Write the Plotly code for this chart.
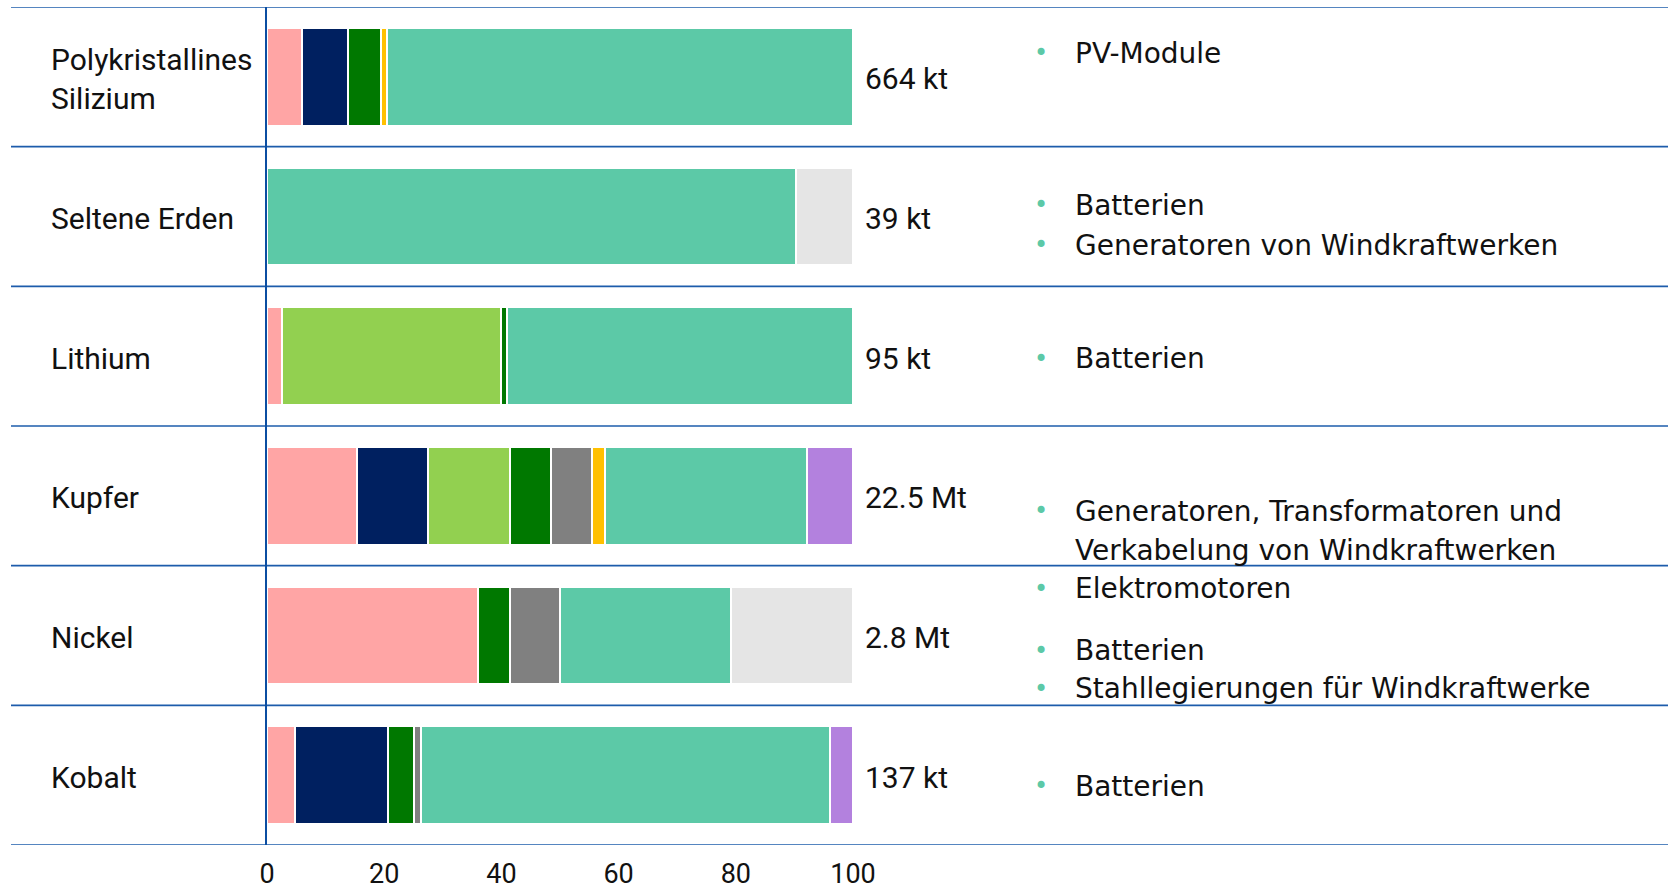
import plotly.graph_objects as go

# rows top to bottom
categories = ["Polykristallines<br>Silizium", "Seltene Erden", "Lithium", "Kupfer", "Nickel", "Kobalt"]
totals = ["664 kt", "39 kt", "95 kt", "22.5 Mt", "2.8 Mt", "137 kt"]

# shares in percent, one list per colour (stacking order left to right)
rosa = [5.9, None, 2.5, 15.4, 36.0, 4.7]
dunkelblau = [8.0, None, None, 12.1, None, 16.0]
hellgruen = [None, None, 37.5, 14.0, None, None]
gruen = [5.5, None, 0.9, 7.0, 5.5, 4.3]
grau = [None, None, None, 7.0, 8.5, 1.3]
gelb = [1.0, None, None, 2.1, None, None]
tuerkis = [79.6, 90.3, 59.1, 34.6, 29.1, 69.8]
lila = [None, None, None, 7.8, None, 3.9]
hellgrau = [None, 9.7, None, None, 20.9, None]

x_ticks = [0, 20, 40, 60, 80, 100]

# uses listed on the right
uses = ["PV-Module",
        "Batterien", "Generatoren von Windkraftwerken",
        "Batterien",
        "Generatoren, Transformatoren und", "Verkabelung von Windkraftwerken",
        "Elektromotoren",
        "Batterien", "Stahllegierungen für Windkraftwerke",
        "Batterien"]
use_bullet = [True, True, True, True, True, False, True, True, True, True]

W, H = 1668, 889
L, R, T, B = 267, 0, 7, 44
PW = W - L - R
PX_PER_UNIT = 5.86
LABEL_FONT = "Roboto, Arial, sans-serif"
TEXT_FONT = "DejaVu Sans, Verdana, sans-serif"
BLUE = "#1d5cab"
TEAL = "#5cc9a7"

series = [
    (rosa, "#ffa5a5"),
    (dunkelblau, "#002060"),
    (hellgruen, "#92d050"),
    (gruen, "#007800"),
    (grau, "#808080"),
    (gelb, "#ffc000"),
    (tuerkis, TEAL),
    (lila, "#b381de"),
    (hellgrau, "#e5e5e5"),
]

fig = go.Figure()
for vals, col in series:
    fig.add_trace(go.Bar(
        x=vals, y=categories, orientation="h",
        marker=dict(color=col, line=dict(color="white", width=2)),
        width=0.7, showlegend=False, hoverinfo="skip",
    ))

def px_x(p):
    return (p - L) / PW

# horizontal separators
for k in range(len(categories) + 1):
    fig.add_shape(type="line", xref="paper", yref="y",
                  x0=px_x(11), x1=1, y0=k - 0.5, y1=k - 0.5,
                  line=dict(color=BLUE, width=1.6), layer="below")

# category labels, left aligned
for cat in categories:
    fig.add_annotation(x=px_x(49), y=cat, xref="paper", yref="y",
                       text=cat, showarrow=False, xanchor="left", yanchor="middle",
                       align="left", yshift=-2,
                       font=dict(family=LABEL_FONT, size=30, color="#111"))

# totals after each bar
for cat, lab in zip(categories, totals):
    fig.add_annotation(x=100, y=cat, xref="x", yref="y", text=lab, showarrow=False,
                       xanchor="left", yanchor="middle", xshift=10, yshift=-2,
                       font=dict(family=LABEL_FONT, size=30, color="#111"))

# uses on the right (pixel rows)
use_y_px = [53, 205, 245, 358.5, 511, 550, 588.5, 650.5, 688.5, 786]
for txt, yp, bul in zip(uses, use_y_px, use_bullet):
    yy = 1 - (yp - T) / (H - T - B)
    fig.add_annotation(x=px_x(1073), y=yy, xref="paper", yref="paper", text=txt,
                       showarrow=False, xanchor="left", yanchor="middle",
                       font=dict(family=TEXT_FONT, size=28, color="#111"))
    if bul:
        fig.add_annotation(x=px_x(1041), y=yy, xref="paper", yref="paper", text="•",
                           showarrow=False, xanchor="center", yanchor="middle",
                           font=dict(family=TEXT_FONT, size=24, color=TEAL))

fig.update_layout(
    width=W, height=H,
    margin=dict(l=L, r=R, t=T, b=B, pad=0),
    barmode="stack",
    plot_bgcolor="white", paper_bgcolor="white",
    xaxis=dict(range=[0, PW / PX_PER_UNIT], tickvals=x_ticks, showgrid=False,
               zeroline=False, showline=False, ticks="outside", ticklen=5,
               tickcolor="rgba(0,0,0,0)", automargin=False,
               tickfont=dict(family=LABEL_FONT, size=27, color="#111")),
    yaxis=dict(categoryorder="array", categoryarray=categories,
               range=[len(categories) - 0.5, -0.5], showticklabels=False,
               showgrid=False, zeroline=False, showline=True, linecolor="#0b4ea2",
               linewidth=2, ticks="", automargin=False),
)

# drop the default body margin so the figure fills the window exactly
fig.write_html("out.html", config={"displayModeBar": False},
               post_script="document.body.style.margin='0';")
